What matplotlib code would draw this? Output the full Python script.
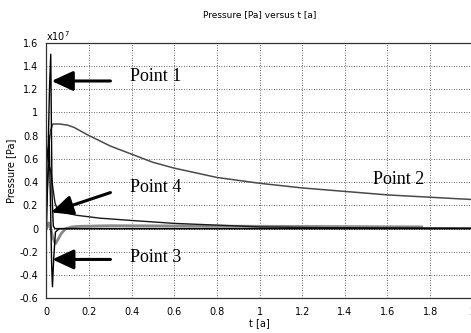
import matplotlib
matplotlib.use("Agg")
import matplotlib.pyplot as plt

# pressure values in units of 1e7 Pa, time in a
t_p1 = [0, 0.008, 0.014, 0.02, 0.026, 0.032, 0.04, 0.06, 0.5, 1.0, 2.0]
p_p1 = [0.55, 0.7, 1.2, 1.5, 0.3, 0.02, 0.0, 0.0, 0.0, 0.0, 0.0]

t_p2 = [0, 0.01, 0.02, 0.03, 0.06, 0.1, 0.13, 0.16, 0.2, 0.25, 0.3, 0.4, 0.5,
        0.6, 0.8, 1.0, 1.2, 1.4, 1.6, 1.8, 2.0]
p_p2 = [0.6, 0.72, 0.85, 0.9, 0.9, 0.89, 0.87, 0.84, 0.8, 0.755, 0.71, 0.64,
        0.57, 0.52, 0.44, 0.39, 0.35, 0.32, 0.29, 0.27, 0.25]

t_p3 = [0, 0.006, 0.012, 0.018, 0.024, 0.028, 0.034, 0.042, 0.06, 0.1, 2.0]
p_p3 = [0.0, 0.45, 0.8, 0.3, -0.3, -0.5, -0.25, -0.03, 0.0, 0.0, 0.0]

t_p4 = [0, 0.01, 0.02, 0.03, 0.04, 0.05, 0.08, 0.14, 0.25, 0.4, 0.6, 0.8,
        1.0, 1.3, 2.0]
p_p4 = [0.2, 0.55, 0.5, 0.35, 0.22, 0.17, 0.14, 0.115, 0.09, 0.07, 0.045,
        0.03, 0.015, 0.008, 0.005]

t_gray = [0, 0.01, 0.02, 0.03, 0.042, 0.055, 0.07, 0.09, 0.12, 0.16, 0.3,
          1.0, 1.76]
p_gray = [0, 0.05, 0.0, -0.08, -0.13, -0.09, -0.04, 0.0, 0.015, 0.02, 0.025,
          0.02, 0.015]

labels = ["Point 1", "Point 2", "Point 3", "Point 4"]
label_pos = [(0.39, 1.31), (1.53, 0.42), (0.39, -0.25), (0.39, 0.35)]
arrow_tail = [(0.30, 1.27), None, (0.30, -0.265), (0.30, 0.31)]
arrow_tip = [(0.024, 1.27), None, (0.027, -0.265), (0.022, 0.14)]

fig = plt.figure(figsize=(4.71, 3.33), dpi=100)
ax = fig.add_axes([0.0987, 0.104, 0.905, 0.768])

ax.plot(t_p2, p_p2, color="#4a4a4a", lw=1.1)
ax.plot(t_gray, p_gray, color="#8a8a8a", lw=2.0)
ax.plot(t_p4, p_p4, color="#1a1a1a", lw=1.0)
ax.plot(t_p3, p_p3, color="#000000", lw=1.0)
ax.plot(t_p1, p_p1, color="#000000", lw=1.0)

ax.set_xlim(0, 2.0)
ax.set_ylim(-0.6, 1.6)
ax.set_xticks([0, 0.2, 0.4, 0.6, 0.8, 1, 1.2, 1.4, 1.6, 1.8, 2])
ax.set_xticklabels(["0", "0.2", "0.4", "0.6", "0.8", "1", "1.2", "1.4",
                    "1.6", "1.8", "2"])
ax.set_yticks([-0.6, -0.4, -0.2, 0, 0.2, 0.4, 0.6, 0.8, 1, 1.2, 1.4, 1.6])
ax.set_yticklabels(["-0.6", "-0.4", "-0.2", "0", "0.2", "0.4", "0.6", "0.8",
                    "1", "1.2", "1.4", "1.6"])
ax.tick_params(length=0, labelsize=7, pad=6)
ax.grid(True, color="#333333", linestyle=(0, (1, 2)), lw=0.6)
for s in ax.spines.values():
    s.set_color("#333333")
    s.set_linewidth(0.9)
ax.spines["right"].set_visible(False)

ax.text(0, 1.0, r"x10$^7$", transform=ax.transAxes, fontsize=7,
        ha="left", va="bottom")
ax.set_title("Pressure [Pa] versus t [a]", fontsize=6.5, pad=18)
ax.set_xlabel("t [a]", fontsize=7, labelpad=1)
ax.set_ylabel("Pressure [Pa]", fontsize=7, labelpad=2)

for lab, pos, tail, tip in zip(labels, label_pos, arrow_tail, arrow_tip):
    ax.text(pos[0], pos[1], lab, fontsize=13, family="Liberation Serif",
            ha="left", va="center")
    if tail is not None:
        ax.annotate("", xy=tip, xytext=tail,
                    arrowprops=dict(arrowstyle="-|>,head_length=1.3,head_width=0.6",
                                    color="black", lw=2.2, mutation_scale=10,
                                    shrinkA=0, shrinkB=0))

fig.savefig("out.png", dpi=100)
